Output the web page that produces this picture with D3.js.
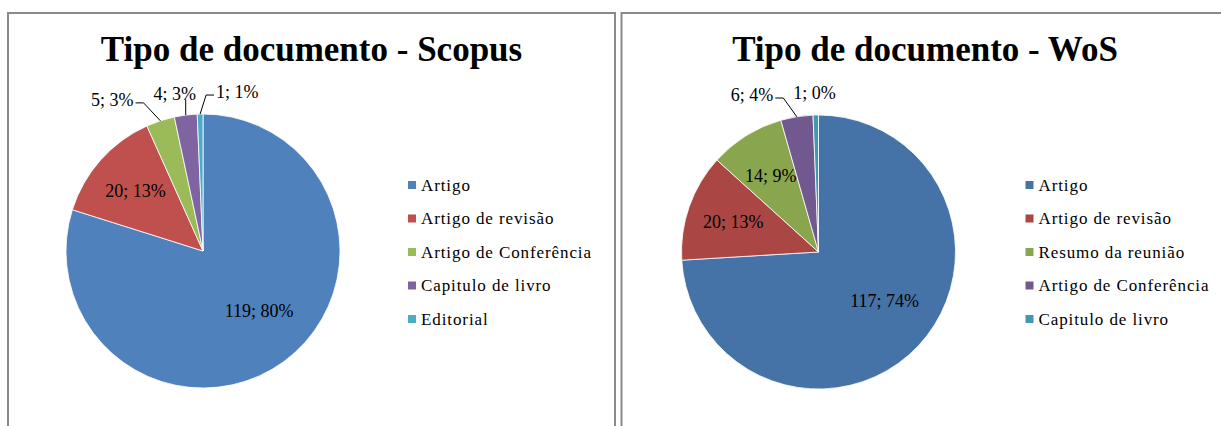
<!DOCTYPE html>
<html>
<head>
<meta charset="utf-8">
<script src="https://cdn.jsdelivr.net/npm/d3@7"></script>
<style>
  body { margin: 0; background: #fff; }
  text { font-family: "Liberation Serif", "DejaVu Serif", serif; fill: #000; }
</style>
</head>
<body>
<script>
(function() {
    // chart data
    var scopusNames = ["Artigo", "Artigo de revisão", "Artigo de Conferência", "Capitulo de livro", "Editorial"];
    var scopusValues = [119, 20, 5, 4, 1];
    var scopusPct = ["80%", "13%", "3%", "3%", "1%"];

    var wosNames = ["Artigo", "Artigo de revisão", "Resumo da reunião", "Artigo de Conferência", "Capitulo de livro"];
    var wosValues = [117, 20, 14, 6, 1];
    var wosPct = ["74%", "13%", "9%", "4%", "0%"];

    var scopusColors = ["#4F81BD", "#C0504D", "#9BBB59", "#8064A2", "#4BACC6"];
    var wosColors = ["#4572A7", "#AA4643", "#89A54E", "#71588F", "#4198AF"];

    var settings = {
        width: 1221,
        height: 426,
        panelW: 607,
        radius: 137
    };

    var svg = d3.select("body").append("svg")
        .attr("width", settings.width)
        .attr("height", settings.height);

    drawPanel({ x: 8, title: "Tipo de documento - Scopus", names: scopusNames, values: scopusValues,
        pct: scopusPct, colors: scopusColors, cx: 195, cy: 251, legendX: 400 });
    drawPanel({ x: 621.5, title: "Tipo de documento - WoS", names: wosNames, values: wosValues,
        pct: wosPct, colors: wosColors, cx: 197, cy: 252, legendX: 404 });

    function drawPanel(cfg) {
        var g = svg.append("g").attr("transform", "translate(" + cfg.x + ",0)");

        // frame
        g.append("rect")
            .attr("x", 0).attr("y", 13)
            .attr("width", settings.panelW).attr("height", 440)
            .attr("fill", "#fff")
            .attr("stroke", "#8a8a8a")
            .attr("stroke-width", 2);

        // title
        g.append("text")
            .attr("x", settings.panelW / 2)
            .attr("y", 61)
            .attr("text-anchor", "middle")
            .style("font-size", "35px")
            .style("font-weight", "bold")
            .text(cfg.title);

        var r = settings.radius;
        var pie = d3.pie().sort(null).value(function(d) { return d; });
        var arcs = pie(cfg.values);
        var arc = d3.arc().innerRadius(0).outerRadius(r);
        var total = d3.sum(cfg.values);

        var color = d3.scaleOrdinal().domain(cfg.names).range(cfg.colors);

        var pg = g.append("g").attr("transform", "translate(" + cfg.cx + "," + cfg.cy + ")");

        pg.selectAll("path.slice")
            .data(arcs)
            .enter()
            .append("path")
            .attr("class", "slice")
            .attr("d", arc)
            .attr("fill", function(d, i) { return color(cfg.names[i]); })
            .attr("stroke", "#fff")
            .attr("stroke-width", 0.8);

        // labels
        var inside = [], outside = [];
        arcs.forEach(function(d, i) {
            var item = { d: d, text: cfg.values[i] + "; " + cfg.pct[i], mid: (d.startAngle + d.endAngle) / 2,
                share: cfg.values[i] / total };
            if (item.share < 0.05) outside.push(item); else inside.push(item);
        });

        inside.forEach(function(o) {
            // big slices get pulled a little toward the middle of the pie
            var lr = r * (o.share > 0.5 ? 0.6 : 0.66);
            var a = o.share > 0.5 ? o.mid - 0.12 : o.mid;
            pg.append("text")
                .attr("x", lr * Math.sin(a))
                .attr("y", -lr * Math.cos(a))
                .attr("dy", "0.35em")
                .attr("text-anchor", "middle")
                .style("font-size", "18px")
                .text(o.text);
        });

        // outside labels: put left of their elbow, then push apart
        var R2 = r + 22;
        outside.forEach(function(o) {
            o.el = pg.append("text")
                .attr("text-anchor", "middle")
                .attr("dy", "0.35em")
                .style("font-size", "18px")
                .text(o.text);
            o.w = o.el.node().getComputedTextLength();
            o.ex = R2 * Math.sin(o.mid);
            o.y = -R2 * Math.cos(o.mid);
            o.x = o.ex - o.w / 2 - 20;
        });
        outside.sort(function(a, b) { return a.x - b.x; });
        for (var k = 1; k < outside.length; k++) {
            var prev = outside[k - 1], cur = outside[k];
            var minX = prev.x + prev.w / 2 + cur.w / 2 + 20;
            if (cur.x < minX) cur.x = minX;
        }
        outside.forEach(function(o) {
            o.el.attr("x", o.x).attr("y", o.y);
            var ax = r * Math.sin(o.mid), ay = -r * Math.cos(o.mid);
            var left = o.x - o.w / 2, right = o.x + o.w / 2;
            var pts;
            if (ax > right + 4) {
                // text sits left of the slice: horizontal tick then down to the slice
                var bx = right + 10, by = o.y + 3;
                pts = [[right + 2, by], [bx, by], [ax, ay]];
            } else if (ax < left - 4) {
                // text sits right of the slice
                pts = [[ax, ay], [ax + 6, o.y + 3], [left - 2, o.y + 3]];
            } else {
                // label right above its slice: only a short drop, skipped for tiny slices
                if (o.share < 0.01) return;
                pts = [[ax, o.y + 6], [ax, ay]];
            }
            pg.append("polyline")
                .attr("points", pts.map(function(p) { return p.join(","); }).join(" "))
                .attr("fill", "none")
                .attr("stroke", "#000")
                .attr("stroke-width", 1);
        });

        // legend
        var lg = g.append("g").attr("transform", "translate(" + cfg.legendX + ",185)");
        var items = lg.selectAll("g.item")
            .data(cfg.names)
            .enter()
            .append("g")
            .attr("class", "item")
            .attr("transform", function(d, i) { return "translate(0," + i * 33.5 + ")"; });
        items.append("rect")
            .attr("x", 0).attr("y", -4)
            .attr("width", 8).attr("height", 8)
            .attr("fill", function(d) { return color(d); });
        items.append("text")
            .attr("x", 13)
            .attr("dy", "0.35em")
            .style("font-size", "17px")
            .style("letter-spacing", "0.9px")
            .text(function(d) { return d; });
    }
})();
</script>
</body>
</html>
